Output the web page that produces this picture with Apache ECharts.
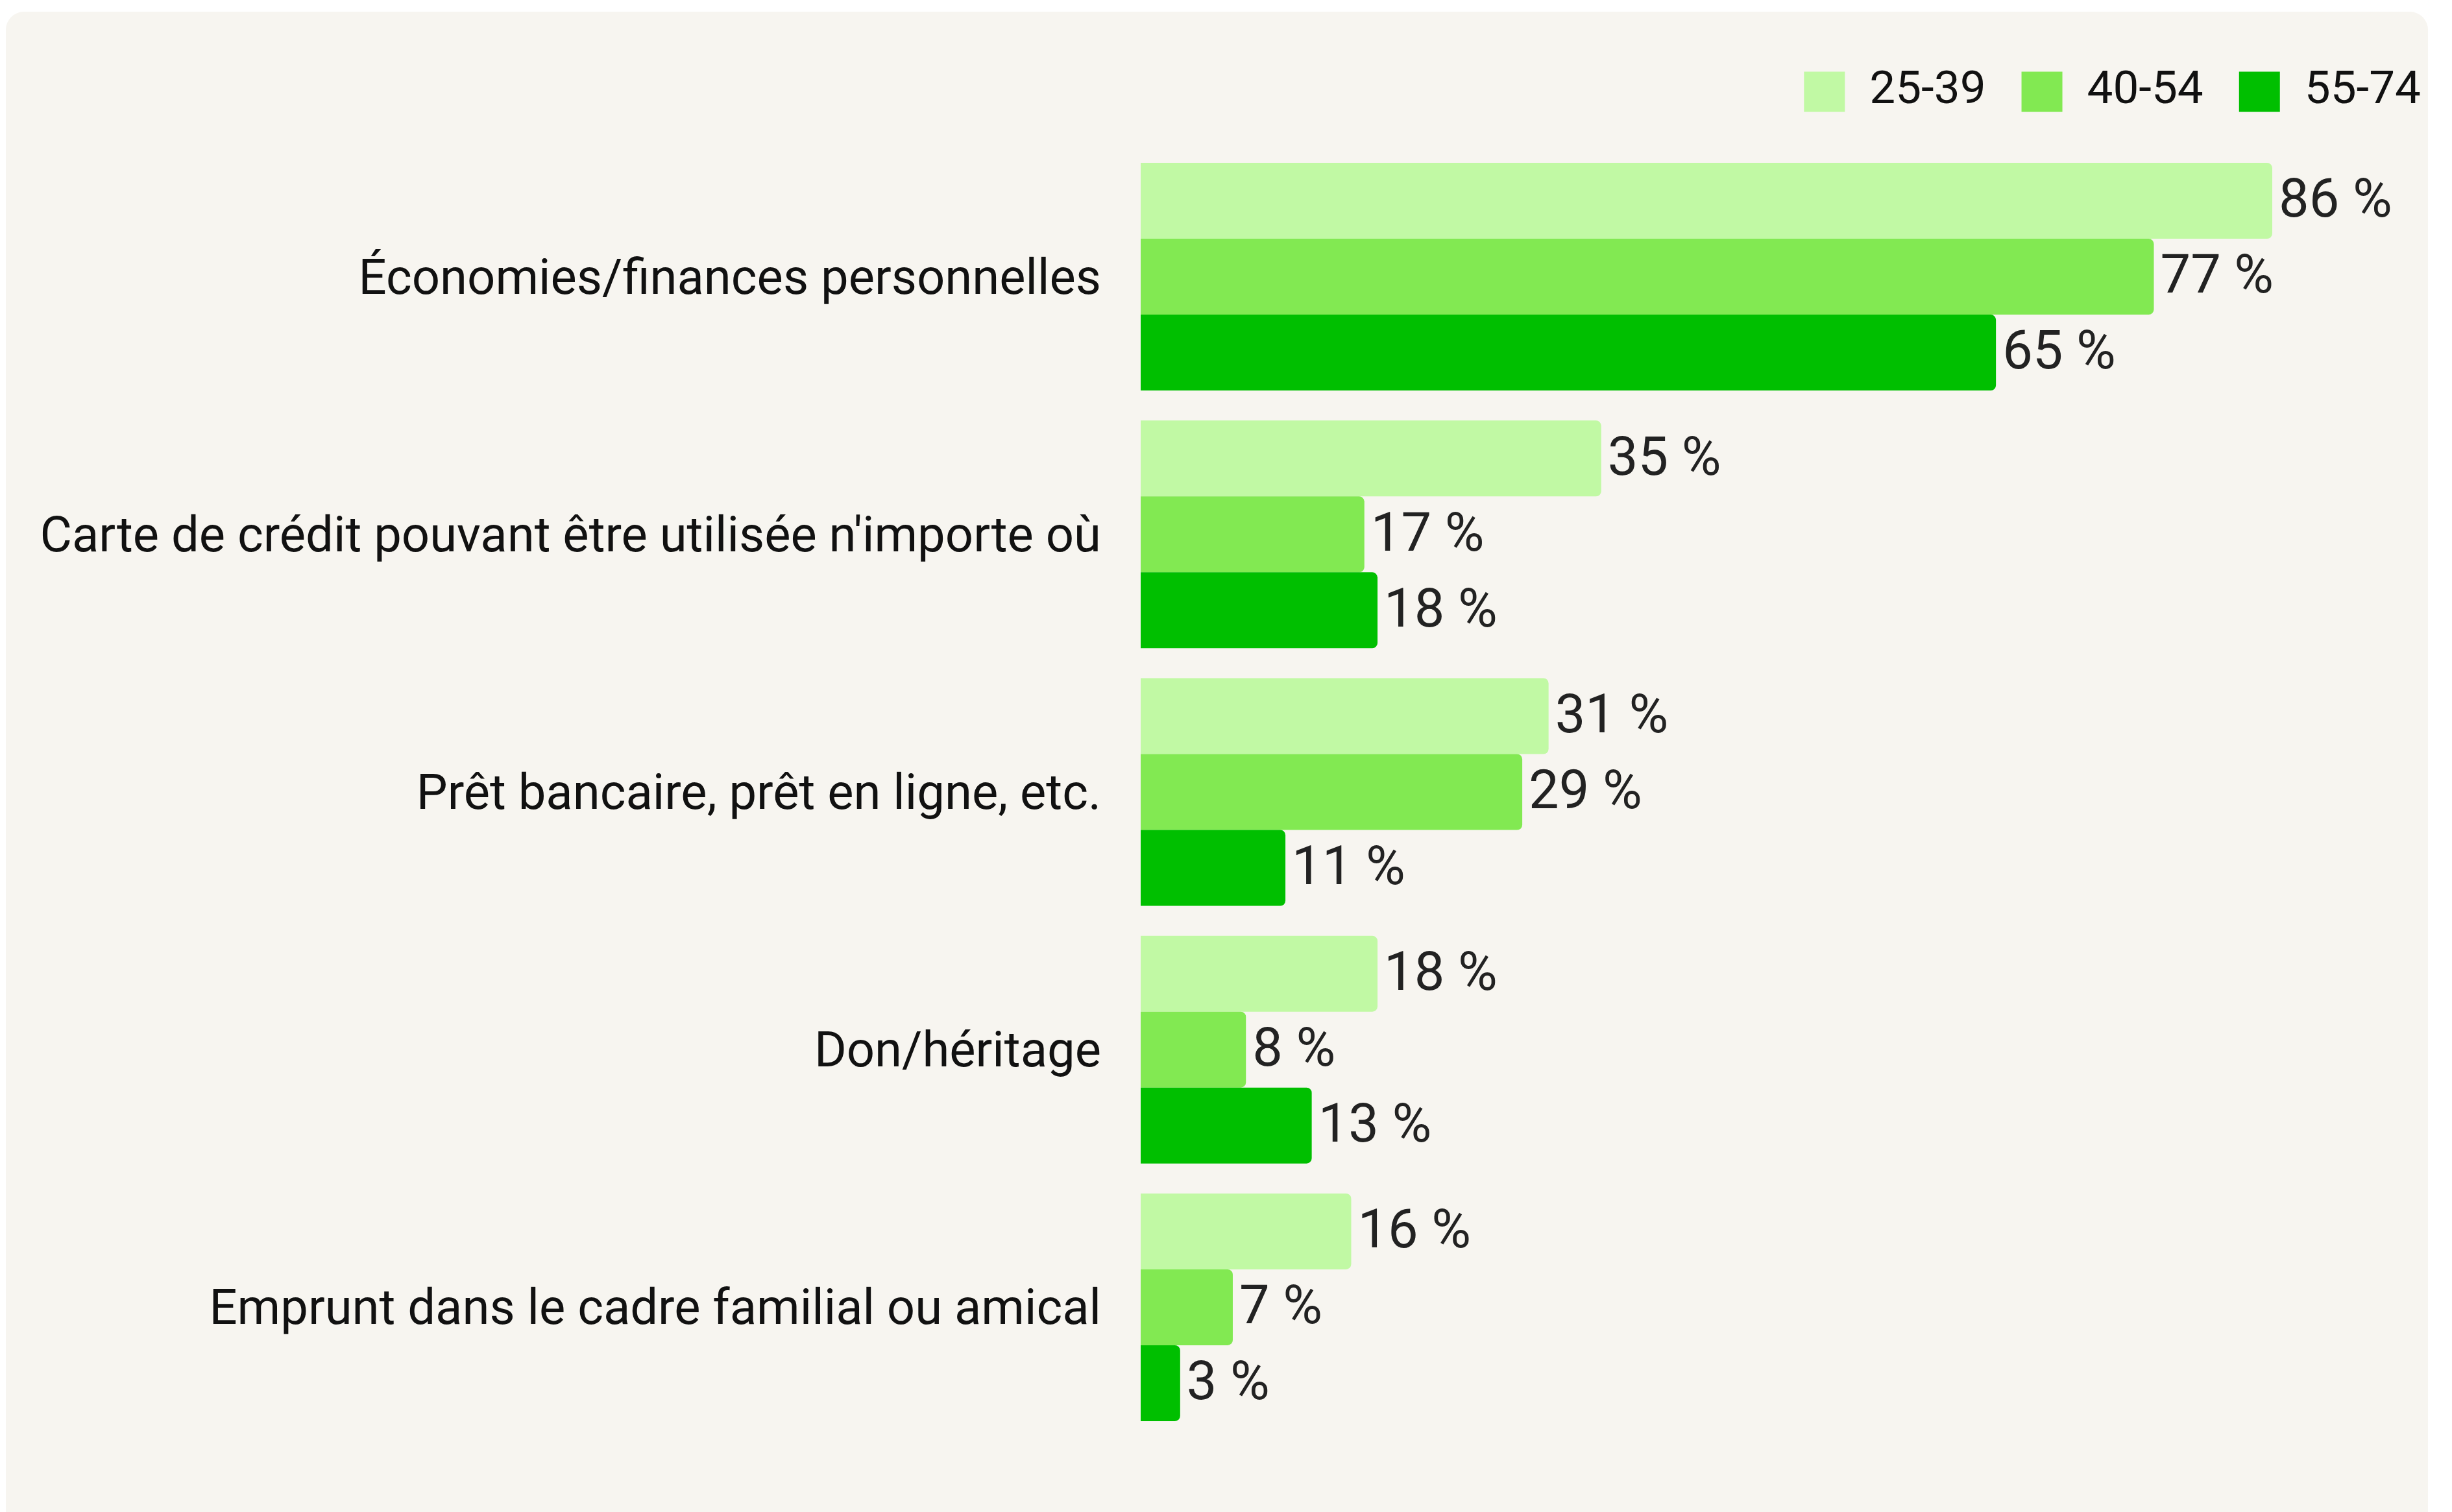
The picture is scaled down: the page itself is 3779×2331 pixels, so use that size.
<!DOCTYPE html>
<html>
<head>
<meta charset="utf-8">
<script src="https://cdn.jsdelivr.net/npm/echarts@6/dist/echarts.min.js"></script>
<style>
    html, body { margin: 0; padding: 0; background: #ffffff; overflow: hidden; }
    #card {
        position: absolute; left: 9px; top: 18px; width: 3733px; height: 2360px;
        background: #f7f5f0; border-radius: 28px;
    }
    #chart { position: absolute; left: 0; top: 0; width: 3779px; height: 2331px; }
</style>
</head>
<body>
<div id="card"></div>
<div id="chart"></div>
<script>
// catégories (du haut vers le bas)
const categories = [
    'Économies/finances personnelles',
    "Carte de crédit pouvant être utilisée n'importe où",
    'Prêt bancaire, prêt en ligne, etc.',
    'Don/héritage',
    'Emprunt dans le cadre familial ou amical'
];
const seriesNames = ['25-39', '40-54', '55-74'];
const values2539 = [86, 35, 31, 18, 16];
const values4054 = [77, 17, 29, 8, 7];
const values5574 = [65, 18, 11, 13, 3];
const colors = ['#c1f9a4', '#82e952', '#00bf00'];

const fontFamily = 'Roboto, "Noto Sans", sans-serif';
const allValues = [values2539, values4054, values5574];

const chart = echarts.init(document.getElementById('chart'), null, { renderer: 'canvas' });

chart.setOption({
    backgroundColor: 'transparent',
    animation: false,
    legend: {
        data: seriesNames,
        right: 43,
        top: 101,
        itemWidth: 63,
        itemHeight: 62,
        itemGap: 55,
        icon: 'rect',
        textStyle: {
            fontFamily: fontFamily,
            fontSize: 71,
            color: '#111111',
            padding: [0, 0, 0, 33]
        }
    },
    grid: {
        left: 1758,
        width: 1744,
        top: 228,
        bottom: 117
    },
    xAxis: {
        type: 'value',
        min: 0,
        max: 'dataMax',
        show: false
    },
    yAxis: {
        type: 'category',
        data: categories,
        inverse: true,
        axisLine: { show: false },
        axisTick: { show: false },
        splitLine: { show: false },
        axisLabel: {
            margin: 61,
            formatter: v => '{c|' + v + '}',
            rich: {
                c: {
                    fontFamily: fontFamily,
                    fontSize: 76,
                    color: '#111111',
                    padding: [14, 0, 0, 0]
                }
            }
        }
    },
    series: seriesNames.map((name, i) => ({
        name: name,
        type: 'bar',
        data: allValues[i],
        barWidth: 117,
        barGap: '0%',
        itemStyle: { color: colors[i], borderRadius: [0, 8, 8, 0] },
        label: {
            show: true,
            position: 'right',
            distance: 10,
            offset: [0, 4],
            formatter: '{c} %',
            fontFamily: fontFamily,
            fontSize: 83,
            color: '#222222'
        }
    }))
});
</script>
</body>
</html>
